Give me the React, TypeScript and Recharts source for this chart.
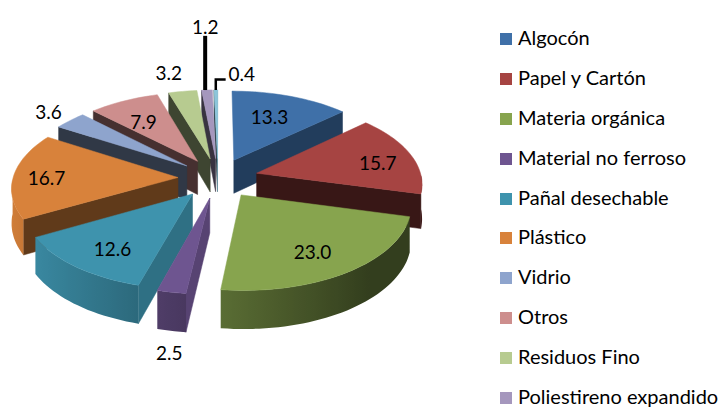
import { PieChart, Pie, Legend } from 'recharts';

const categories = [
  'Algocón',
  'Papel y Cartón',
  'Materia orgánica',
  'Material no ferroso',
  'Pañal desechable',
  'Plástico',
  'Vidrio',
  'Otros',
  'Residuos Fino',
  'Poliestireno expandido',
  'Otro material',
];
const values = [13.3, 15.7, 23.0, 2.5, 12.6, 16.7, 3.6, 7.9, 3.2, 1.2, 0.4];
const colors = [
  '#3f70a8',
  '#a64442',
  '#87a44e',
  '#6e5590',
  '#3e93ad',
  '#d8823b',
  '#8ea4cd',
  '#cd8e8d',
  '#b7cb90',
  '#a597bd',
  '#8cc5da',
];
const LEGEND_COUNT = 10;

// back to front, a later slice covers the walls of an earlier one
const paintOrder = [10, 9, 8, 7, 6, 0, 5, 1, 4, 2, 3];

// label distance from the pie centre, and small corrections in px
const labelRadius = [142, 165, 160, 285, 160, 172, 245, 148, 255, 200, 220];
const labelNudge = [
  [-1, -2],
  [4, 4],
  [-4, 1],
  [19, 8],
  [3, 3],
  [0, 2],
  [4, 1],
  [-4, 1],
  [-7, -2],
  [-2, -65],
  [26, -11],
];
const leaders: Record<number, string> = { 9: 'straight', 10: 'elbow' };

const data = categories.map((name, i) => ({ name, value: values[i], fill: colors[i] }));

const CX = 218;
const CY = 178;
const RADIUS = 165;
const EXPLODE = 40;
const TILT = 0.5;
const PERSPECTIVE = 0.113;
const DEPTH = 34;
const RAD = Math.PI / 180;

function project(X: number, Y: number, z = 0) {
  const s = 1 + (PERSPECTIVE * Y) / RADIUS;
  return { x: CX + X * s, y: CY + TILT * Y * s + z * s };
}

// theta runs clockwise from the top of the pie
function rimPoint(theta: number, mid: number, radius: number, z = 0) {
  const X = EXPLODE * Math.sin(mid * RAD) + radius * Math.sin(theta * RAD);
  const Y = -EXPLODE * Math.cos(mid * RAD) - radius * Math.cos(theta * RAD);
  return project(X, Y, z);
}

function shade(hex: string, f: number) {
  const n = parseInt(hex.slice(1), 16);
  const c = [(n >> 16) & 255, (n >> 8) & 255, n & 255].map((v) => Math.round(v * f));
  return `rgb(${c[0]},${c[1]},${c[2]})`;
}

const poly = (pts: { x: number; y: number }[]) =>
  pts.map((p) => `${p.x.toFixed(1)},${p.y.toFixed(1)}`).join(' ');

const rimShade = (theta: number) => Math.max(0.38, 0.62 - 0.35 * Math.sin(theta * RAD));

function Slice3D({ startAngle, endAngle, fill }: any) {
  const t0 = 90 - startAngle;
  const t1 = 90 - endAngle;
  const mid = (t0 + t1) / 2;
  const steps = Math.max(2, Math.ceil((t1 - t0) / 2));
  const thetas = Array.from({ length: steps + 1 }, (_, i) => t0 + ((t1 - t0) * i) / steps);

  const top = [rimPoint(0, mid, 0), ...thetas.map((t) => rimPoint(t, mid, RADIUS))];

  const wall = (theta: number, nx: number, ny: number) => {
    if (ny <= 0) return null;
    const side = Math.max(0, nx);
    const c = shade(fill, 0.34 + 0.46 * side * side);
    const pts = [
      rimPoint(0, mid, 0),
      rimPoint(theta, mid, RADIUS),
      rimPoint(theta, mid, RADIUS, DEPTH),
      rimPoint(0, mid, 0, DEPTH),
    ];
    return <polygon points={poly(pts)} fill={c} stroke={c} strokeWidth={0.5} />;
  };

  // outer wall, only the part that faces the viewer
  const front = thetas.filter((t) => Math.cos(t * RAD) <= 0);
  let rim = null;
  if (front.length > 1) {
    const upper = front.map((t) => rimPoint(t, mid, RADIUS));
    const lower = front.map((t) => rimPoint(t, mid, RADIUS, DEPTH)).reverse();
    const x0 = upper[0].x;
    const x1 = upper[upper.length - 1].x;
    const id = `rim-${fill.slice(1)}`;
    rim = (
      <>
        <defs>
          <linearGradient id={id} gradientUnits="userSpaceOnUse" x1={x0} y1={0} x2={x1} y2={0}>
            {front.map((t, i) => (
              <stop
                key={i}
                offset={Math.abs(x1 - x0) < 1 ? 0 : (upper[i].x - x0) / (x1 - x0)}
                stopColor={shade(fill, rimShade(t))}
              />
            ))}
          </linearGradient>
        </defs>
        <polygon points={poly([...upper, ...lower])} fill={`url(#${id})`} />
      </>
    );
  }

  return (
    <g>
      {wall(t0, -Math.cos(t0 * RAD), -Math.sin(t0 * RAD))}
      {wall(t1, Math.cos(t1 * RAD), Math.sin(t1 * RAD))}
      {rim}
      <polygon points={poly(top)} fill={fill} stroke={fill} strokeWidth={0.5} />
    </g>
  );
}

function renderLabel({ midAngle, index, value }: any) {
  const theta = 90 - midAngle;
  const base = rimPoint(theta, theta, labelRadius[index] - EXPLODE);
  const [dx, dy] = labelNudge[index];
  const x = base.x + dx;
  const y = base.y + dy;
  const edge = rimPoint(theta, theta, RADIUS);
  let leader = null;
  if (leaders[index] === 'straight') {
    leader = <path d={`M${x} ${edge.y}V${y + 9}`} stroke="#000" strokeWidth={4} fill="none" />;
  } else if (leaders[index] === 'elbow') {
    leader = (
      <path
        d={`M${edge.x} ${edge.y}V${y + 6}H${x - 16}`}
        stroke="#000"
        strokeWidth={2.5}
        fill="none"
      />
    );
  }
  return (
    <g key={index}>
      {leader}
      <text
        x={x}
        y={y}
        textAnchor="middle"
        dominantBaseline="central"
        fontFamily="Lato"
        fontSize={19}
        fill="#000"
      >
        {value.toFixed(1)}
      </text>
    </g>
  );
}

function LegendList({ payload }: any) {
  return (
    <div style={{ fontFamily: 'Lato', fontSize: 20, lineHeight: '18px', color: '#000' }}>
      {(payload ?? []).slice(0, LEGEND_COUNT).map((entry: any) => (
        <div
          key={entry.value}
          style={{ height: 39.9, display: 'flex', alignItems: 'center', whiteSpace: 'nowrap' }}
        >
          <span style={{ width: 12, height: 12, background: entry.color, marginRight: 6, flex: 'none' }} />
          <span style={{ position: 'relative', top: -2 }}>{entry.value}</span>
        </div>
      ))}
    </div>
  );
}

export default function App() {
  return (
    <div style={{ position: 'absolute', left: 0, top: 0, width: 724, height: 407, background: '#fff' }}>
      <PieChart width={724} height={407} margin={{ top: 0, right: 0, bottom: 0, left: 0 }}>
        {paintOrder.map((sliceIndex, i) => (
          <Pie
            key={sliceIndex}
            data={data}
            dataKey="value"
            nameKey="name"
            cx={CX}
            cy={CY}
            outerRadius={RADIUS}
            startAngle={90}
            endAngle={-270}
            stroke="none"
            isAnimationActive={false}
            legendType={i === 0 ? 'rect' : 'none'}
            label={i === paintOrder.length - 1 ? renderLabel : false}
            labelLine={false}
            shape={(props: any) =>
              props.name === categories[sliceIndex] ? <Slice3D {...props} /> : <g />
            }
          />
        ))}
        <Legend
          content={LegendList}
          itemSorter={null}
          layout="vertical"
          wrapperStyle={{ position: 'absolute', left: 500, top: 19, width: 224 }}
        />
      </PieChart>
    </div>
  );
}
